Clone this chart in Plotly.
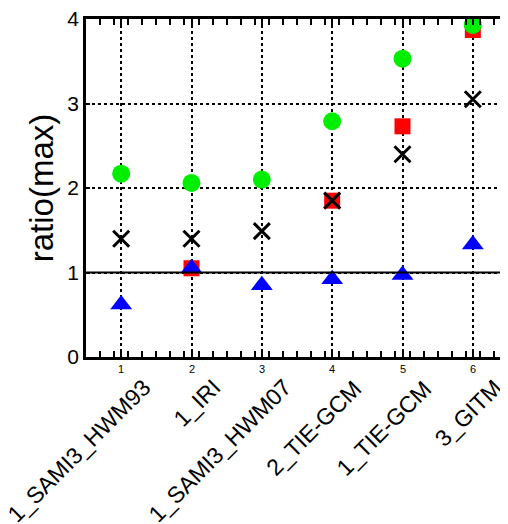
import plotly.graph_objects as go

positions = [1, 2, 3, 4, 5, 6]
names = ["1_SAMI3_HWM93", "1_IRI", "1_SAMI3_HWM07", "2_TIE-GCM", "1_TIE-GCM", "3_GITM"]
green_vals = [2.17, 2.06, 2.10, 2.79, 3.53, 3.93]
red_vals = [None, 1.05, None, 1.85, 2.73, 3.87]
black_vals = [1.40, 1.40, 1.49, 1.85, 2.40, 3.05]
blue_vals = [0.62, 1.05, 0.85, 0.92, 0.97, 1.33]

FONT = "Liberation Sans, Arial, Helvetica, sans-serif"

fig = go.Figure()
fig.add_trace(go.Scatter(x=positions, y=red_vals, mode="markers",
                         marker=dict(symbol="square", size=16, color="#ff0000"), showlegend=False))
fig.add_trace(go.Scatter(x=positions, y=green_vals, mode="markers",
                         marker=dict(symbol="circle", size=18, color="#00ee00"), showlegend=False))
fig.add_trace(go.Scatter(x=positions, y=black_vals, mode="markers",
                         marker=dict(symbol="x-thin", size=16, color="black",
                                     line=dict(width=3, color="black")), showlegend=False))
fig.add_trace(go.Scatter(x=positions, y=blue_vals, mode="markers",
                         marker=dict(symbol="triangle-up", size=19, color="#0000ff"), showlegend=False))

# solid reference line at ratio 1
fig.add_shape(type="line", xref="paper", x0=0, x1=1, yref="y", y0=1, y1=1,
              line=dict(color="black", width=2))

# small index numbers under the axis
for p in positions:
    fig.add_annotation(x=p, y=0, xref="x", yref="y", text=str(p), showarrow=False,
                       yanchor="top", yshift=-4, font=dict(size=11, color="black", family=FONT))

# rotated category names
for p, name in zip(positions, names):
    fig.add_annotation(x=p, y=0, xref="x", yref="paper", text=name, showarrow=False,
                       textangle=-45, xanchor="right", yanchor="top",
                       xshift=37, yshift=-15,
                       font=dict(size=23, color="black", family=FONT))

fig.update_xaxes(range=[0.5, 6.5], tickmode="array", tickvals=positions, showticklabels=False,
                 automargin=False,
                 ticks="inside", ticklen=6, tickwidth=1.5, tickcolor="black",
                 minor=dict(dtick=0.2, tick0=0.5, ticks="inside", ticklen=6, tickwidth=1.5,
                            tickcolor="black", showgrid=False),
                 showline=True, linecolor="black", linewidth=2.5, mirror="allticks",
                 showgrid=True, gridcolor="black", griddash="dot", gridwidth=1.5,
                 zeroline=False)
fig.update_yaxes(range=[0, 4], dtick=1, tick0=0, automargin=False,
                 tickfont=dict(size=21, color="black", family=FONT),
                 ticklabeloverflow="allow",
                 ticks="inside", ticklen=4, tickwidth=1.5, tickcolor="black",
                 showline=True, linecolor="black", linewidth=2.5, mirror=False,
                 showgrid=True, gridcolor="black", griddash="dot", gridwidth=1.5,
                 zeroline=False,
                 title=dict(text="ratio(max)", font=dict(size=33, color="black", family=FONT),
                            standoff=4))

# page body has an 8px default margin, so the figure is made 8px smaller
fig.update_layout(width=500, height=516, plot_bgcolor="white", paper_bgcolor="white",
                  margin=dict(l=78, r=0, t=11, b=167), font=dict(family=FONT))

fig.write_html("out.html")
